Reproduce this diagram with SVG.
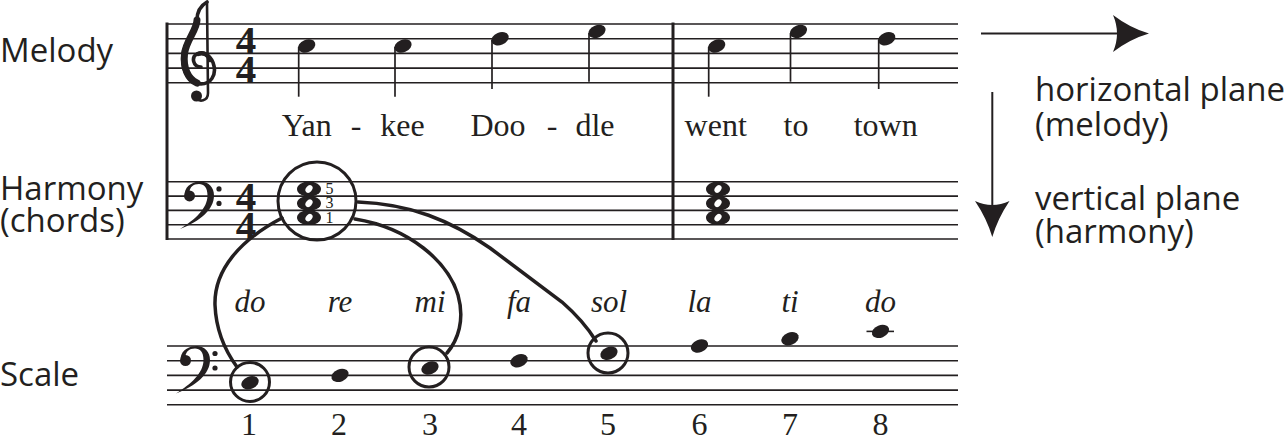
<svg xmlns="http://www.w3.org/2000/svg" width="1286" height="440" viewBox="0 0 1286 440">
<style>
.staff{fill:none;stroke:#231f20;stroke-width:1.6}
.bar{stroke:#231f20;stroke-width:3}
.ink{fill:#231f20}
.stem{stroke:#231f20;stroke-width:1.7}
.lbl{font-family:"Open Sans","Noto Sans",sans-serif;font-size:33px;fill:#231f20}
.lyr{font-family:"Liberation Serif","Times New Roman",serif;font-size:32px;fill:#231f20;text-anchor:middle}
.solf{font-family:"Liberation Serif","Times New Roman",serif;font-style:italic;font-size:31px;fill:#231f20;text-anchor:middle}
.num{font-family:"Liberation Serif","Times New Roman",serif;font-size:32px;fill:#231f20;text-anchor:middle}
.ts{font-family:"Liberation Serif","Times New Roman",serif;font-weight:bold;font-size:41px;fill:#231f20;text-anchor:middle}
.deg{font-family:"Liberation Serif","Times New Roman",serif;font-size:16px;fill:#231f20;text-anchor:middle}
.ring{fill:none;stroke:#231f20;stroke-width:3}
.conn{fill:none;stroke:#231f20;stroke-width:3.5;stroke-linecap:round}
.arr{fill:none;stroke:#231f20;stroke-width:2}
.clef{fill:none;stroke:#231f20;stroke-linecap:round;stroke-linejoin:round}
</style>
<defs>
<ellipse id="nh" class="ink" rx="9" ry="6.2" transform="rotate(-22)"/>
<g id="whole3">
<ellipse cx="0" cy="189" rx="12" ry="7.5" class="ink"/>
<ellipse cx="0" cy="203.3" rx="12" ry="7.5" class="ink"/>
<ellipse cx="0" cy="217.6" rx="12" ry="7.5" class="ink"/>
<ellipse cx="0" cy="189" rx="4.2" ry="3" transform="rotate(-50 0 189)" fill="#fff"/>
<ellipse cx="0" cy="203.3" rx="4.2" ry="3" transform="rotate(-50 0 203.3)" fill="#fff"/>
<ellipse cx="0" cy="217.6" rx="4.2" ry="3" transform="rotate(-50 0 217.6)" fill="#fff"/>
</g>
<g id="fclef">
<circle cx="185.5" cy="360.5" r="5.5" class="ink"/>
<path class="ink" d="M180.5,358 C182,349 190,346 197,346 C205,346.5 210,352 210,360 C210,374 196,386 176,393.5 C191,384 203.5,373 203.5,360 C203.5,352 200,348.5 195,348.5 C189,348.5 186,352 185.5,356 Z"/>
<circle cx="215" cy="353.5" r="2.6" class="ink"/>
<circle cx="215" cy="368" r="2.6" class="ink"/>
</g>
</defs>

<g id="melody-staff">
<path class="staff" d="M167,24H958M167,38.7H958M167,53.4H958M167,68.1H958M167,82.8H958"/>
<g id="treble-clef">
<path class="clef" stroke-width="3.6" d="M207,2 C200,6 197,12 197,20 C197,30 185,40 183,54 C181,70 189,84 201,84 C211,84 216,75 214,66 C212,56 204,51 197,54 C191,57 193,67 201,67"/>
<path class="clef" stroke-width="7" d="M197,20 C197,30 186,40 184.5,54 C183,68 188,79 197,83"/>
<path class="clef" stroke-width="4.5" d="M210,60 C208,54 203,52 198,54"/>
<path class="clef" stroke-width="2.6" d="M207,3 L208,93 C208,101 199,103 196,97"/>
<circle cx="196.5" cy="96" r="5.5" class="ink"/>
</g>
<text class="ts" x="246" y="54">4</text>
<text class="ts" x="246" y="83">4</text>
<g id="melody-notes">
<use href="#nh" x="306.7" y="46"/><line class="stem" x1="298.7" y1="47" x2="298.7" y2="96.7"/>
<use href="#nh" x="403" y="46"/><line class="stem" x1="395" y1="47" x2="395" y2="96.7"/>
<use href="#nh" x="500" y="38.7"/><line class="stem" x1="492" y1="40" x2="492" y2="89"/>
<use href="#nh" x="597" y="31.4"/><line class="stem" x1="589" y1="33" x2="589" y2="81.7"/>
<use href="#nh" x="716.7" y="46"/><line class="stem" x1="708.7" y1="47" x2="708.7" y2="96.7"/>
<use href="#nh" x="798.5" y="31.4"/><line class="stem" x1="790.5" y1="33" x2="790.5" y2="81.7"/>
<use href="#nh" x="886.7" y="38.7"/><line class="stem" x1="878.7" y1="40" x2="878.7" y2="89"/>
</g>
<g id="lyrics">
<text class="lyr" x="306.7" y="136">Yan</text>
<text class="lyr" x="356" y="136">-</text>
<text class="lyr" x="402.5" y="136">kee</text>
<text class="lyr" x="498" y="136">Doo</text>
<text class="lyr" x="552" y="136">-</text>
<text class="lyr" x="595" y="136">dle</text>
<text class="lyr" x="715.7" y="136">went</text>
<text class="lyr" x="796" y="136">to</text>
<text class="lyr" x="885.7" y="136">town</text>
</g>
</g>

<g id="harmony-staff">
<path class="staff" d="M167,181.8H958M167,196.1H958M167,210.4H958M167,224.7H958M167,239H958"/>
<use href="#fclef" transform="translate(4,-164.6)"/>
<text class="ts" x="246" y="210.4">4</text>
<text class="ts" x="246" y="239">4</text>
<g id="chord-1">
<use href="#whole3" x="309"/>
<text class="deg" x="329.5" y="194">5</text>
<text class="deg" x="329.5" y="208.3">3</text>
<text class="deg" x="329.5" y="222.6">1</text>
<circle class="ring" cx="317" cy="201" r="39"/>
</g>
<g id="chord-2">
<use href="#whole3" x="718"/>
</g>
</g>

<g id="barlines">
<line class="bar" x1="167" y1="22.5" x2="167" y2="240"/>
<line class="bar" x1="673" y1="22.5" x2="673" y2="240"/>
</g>

<g id="scale-staff">
<path class="staff" d="M167,346H958M167,360.7H958M167,375.4H958M167,390.1H958M167,404.8H958"/>
<use href="#fclef"/>
<path class="staff" d="M866.5,331.4H894"/>
<g id="scale-notes">
<use href="#nh" x="250" y="382.7"/>
<use href="#nh" x="340" y="375.4"/>
<use href="#nh" x="430" y="368"/>
<use href="#nh" x="519" y="360.7"/>
<use href="#nh" x="609" y="353.3"/>
<use href="#nh" x="699.5" y="346"/>
<use href="#nh" x="790" y="338.7"/>
<use href="#nh" x="880.5" y="331.4"/>
</g>
<circle class="ring" cx="250" cy="382" r="19.5"/>
<circle class="ring" cx="429" cy="367" r="20"/>
<circle class="ring" cx="608" cy="353" r="20"/>
<g id="solfege">
<text class="solf" x="250" y="312">do</text>
<text class="solf" x="340" y="312">re</text>
<text class="solf" x="430" y="312">mi</text>
<text class="solf" x="519" y="312">fa</text>
<text class="solf" x="609" y="312">sol</text>
<text class="solf" x="699.5" y="312">la</text>
<text class="solf" x="790" y="312">ti</text>
<text class="solf" x="880.5" y="312">do</text>
</g>
<g id="degrees">
<text class="num" x="249" y="435">1</text>
<text class="num" x="339" y="435">2</text>
<text class="num" x="430" y="435">3</text>
<text class="num" x="519" y="435">4</text>
<text class="num" x="608" y="435">5</text>
<text class="num" x="699.5" y="435">6</text>
<text class="num" x="790" y="435">7</text>
<text class="num" x="880.5" y="435">8</text>
</g>
</g>

<g id="connectors">
<path class="conn" d="M282,218 C240,240 214,270 215,305 C216,330 226,352 237,367"/>
<path class="conn" d="M355,219 C410,228 448,262 458,295 C465,320 458,340 447,353"/>
<path class="conn" d="M358,202 C410,204 450,220 490,248 L562,302 C578,316 588,328 596,341"/>
</g>

<g id="left-labels">
<text class="lbl" x="0" y="62">Melody</text>
<text class="lbl" x="0" y="200">Harmony</text>
<text class="lbl" x="0" y="232">(chords)</text>
<text class="lbl" x="0" y="386">Scale</text>
</g>

<g id="horizontal-arrow">
<line class="arr" x1="981" y1="33.5" x2="1125" y2="33.5"/>
<path class="ink" d="M1149,33.5 Q1130,39 1113,52 Q1121,33.5 1113,15 Q1130,28 1149,33.5 Z"/>
</g>
<g id="vertical-arrow">
<line class="arr" x1="992.3" y1="92" x2="992.3" y2="212"/>
<path class="ink" d="M992.3,237 Q986.5,218 975,201 Q992.3,209 1009.5,201 Q998,218 992.3,237 Z"/>
</g>
<g id="right-labels">
<text class="lbl" x="1035" y="101">horizontal plane</text>
<text class="lbl" x="1035" y="136">(melody)</text>
<text class="lbl" x="1035" y="210">vertical plane</text>
<text class="lbl" x="1035" y="243">(harmony)</text>
</g>
</svg>
